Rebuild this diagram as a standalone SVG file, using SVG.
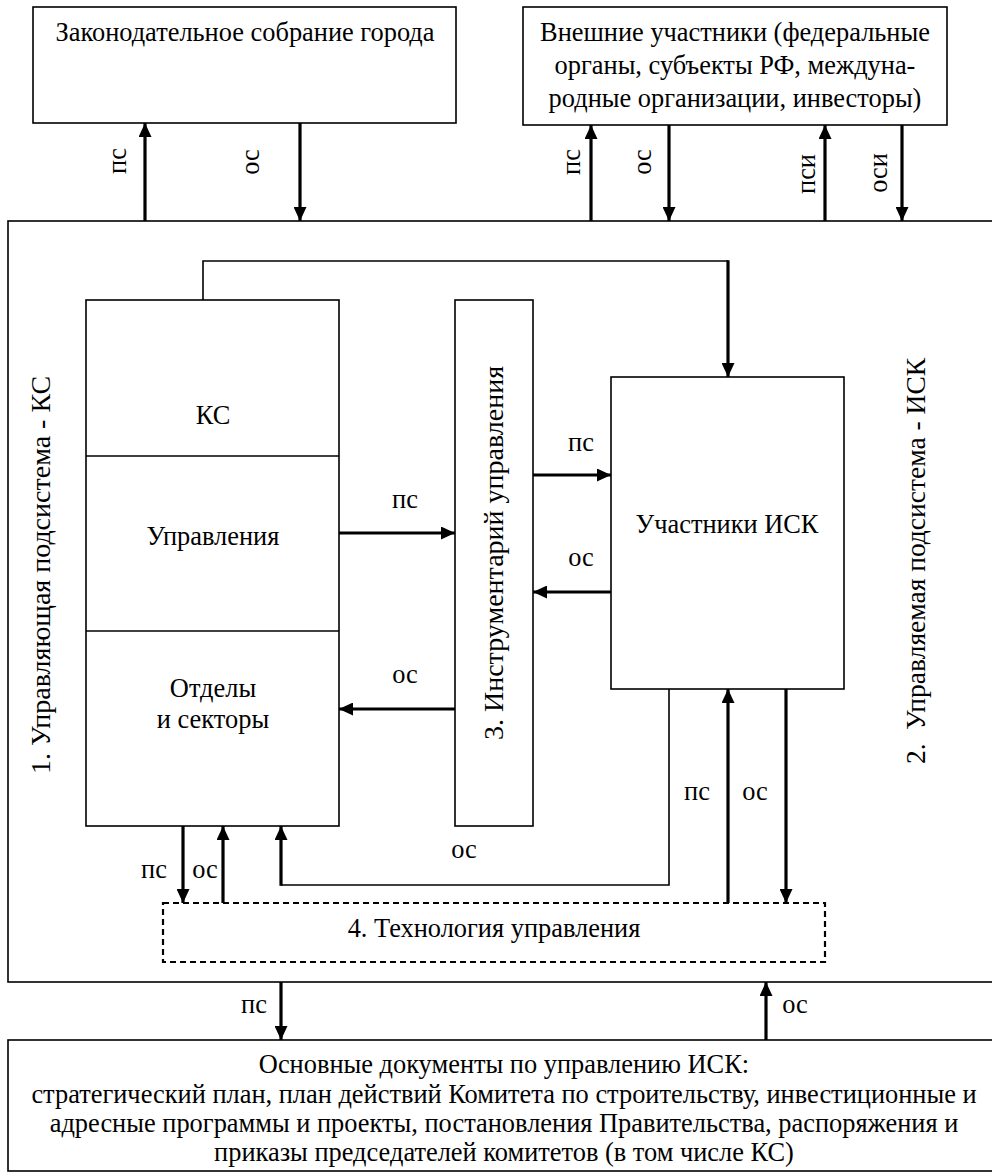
<svg xmlns="http://www.w3.org/2000/svg" width="992" height="1173" viewBox="0 0 992 1173" font-family="Liberation Serif">
<style>
  .box { fill: #fff; stroke: #000; stroke-width: 1.6; }
  .dash { fill: none; stroke: #000; stroke-width: 2.2; stroke-dasharray: 6 4; }
  .thin { fill: none; stroke: #000; stroke-width: 1.6; }
  .arr { fill: none; stroke: #000; stroke-width: 3.2; marker-end: url(#ah); }
  text { font-family: "Liberation Serif", "Times New Roman", serif; font-size: 26.4px; fill: #000; }
  .c { text-anchor: middle; }
  .big { font-size: 28px; }
</style>
<defs>
  <marker id="ah" viewBox="0 0 14 13" refX="14" refY="6.5" markerWidth="14" markerHeight="13" markerUnits="userSpaceOnUse" orient="auto">
    <path d="M0,0 L14,6.5 L0,13 z" fill="#000"/>
  </marker>
</defs>
<rect width="992" height="1173" fill="#fff"/>

<g id="main-system">
  <rect class="box" x="8" y="221" width="1000" height="761"/>
  <text transform="translate(50,575) rotate(-90)" class="c big">1. Управляющая подсистема - КС</text>
  <text transform="translate(925,561) rotate(-90)" class="c" style="font-size:27.5px" xml:space="preserve">2.  Управляемая подсистема - ИСК</text>
</g>

<g id="legislative">
  <rect class="box" x="33" y="7" width="423" height="116"/>
  <text x="245" y="41" class="c">Законодательное собрание города</text>
</g>

<g id="external">
  <rect class="box" x="523" y="7" width="424" height="118"/>
  <text x="735" y="41" class="c">Внешние участники (федеральные</text>
  <text x="735" y="74" class="c">органы, субъекты РФ, междуна-</text>
  <text x="735" y="107" class="c">родные организации, инвесторы)</text>
</g>

<g id="ks-column">
  <rect class="box" x="86" y="300" width="253" height="526"/>
  <line class="thin" x1="86" y1="456" x2="339" y2="456"/>
  <line class="thin" x1="86" y1="631" x2="339" y2="631"/>
  <text x="213" y="424" class="c">КС</text>
  <text x="213" y="545" class="c">Управления</text>
  <text x="213" y="697" class="c">Отделы</text>
  <text x="213" y="728" class="c">и секторы</text>
</g>

<g id="instruments">
  <rect class="box" x="455" y="300" width="78" height="526"/>
  <text transform="translate(503,553) rotate(-90)" class="c big">3. Инструментарий управления</text>
</g>

<g id="participants">
  <rect class="box" x="611" y="377" width="233" height="312"/>
  <text x="727" y="533" class="c">Участники ИСК</text>
</g>

<g id="technology">
  <rect class="dash" x="163" y="903" width="662" height="59"/>
  <text x="494" y="937" class="c">4. Технология управления</text>
</g>

<g id="documents">
  <rect class="box" x="8" y="1040" width="1000" height="131"/>
  <text x="504" y="1073" class="c">Основные документы по управлению ИСК:</text>
  <text x="504" y="1103" class="c">стратегический план, план действий Комитета по строительству, инвестиционные и</text>
  <text x="504" y="1132" class="c">адресные программы и проекты, постановления Правительства, распоряжения и</text>
  <text x="504" y="1161" class="c">приказы председателей комитетов (в том числе КС)</text>
</g>

<g id="connectors">
  <line class="arr" x1="145" y1="221" x2="145" y2="123"/>
  <line class="arr" x1="300" y1="123" x2="300" y2="221"/>
  <line class="arr" x1="591" y1="221" x2="591" y2="125"/>
  <line class="arr" x1="669" y1="125" x2="669" y2="221"/>
  <line class="arr" x1="825" y1="221" x2="825" y2="125"/>
  <line class="arr" x1="902" y1="125" x2="902" y2="221"/>

  <path class="thin" d="M203,300 V261 H728"/>
  <line class="arr" x1="728" y1="260.2" x2="728" y2="377"/>

  <line class="arr" x1="339" y1="533" x2="455" y2="533"/>
  <line class="arr" x1="533" y1="475" x2="611" y2="475"/>
  <line class="arr" x1="611" y1="592" x2="533" y2="592"/>
  <line class="arr" x1="455" y1="709" x2="339" y2="709"/>

  <line class="arr" x1="183" y1="826" x2="183" y2="903"/>
  <line class="arr" x1="223" y1="903" x2="223" y2="826"/>
  <path class="thin" d="M669,689 V885 H281"/>
  <line class="arr" x1="281" y1="885.8" x2="281" y2="826"/>

  <line class="arr" x1="728" y1="903" x2="728" y2="689"/>
  <line class="arr" x1="786" y1="689" x2="786" y2="903"/>

  <line class="arr" x1="281" y1="982" x2="281" y2="1040"/>
  <line class="arr" x1="766" y1="1040" x2="766" y2="982"/>

  <text transform="translate(126,161) rotate(-90)" class="c">пс</text>
  <text transform="translate(259,162) rotate(-90)" class="c">ос</text>
  <text transform="translate(580,162) rotate(-90)" class="c">пс</text>
  <text transform="translate(651,162) rotate(-90)" class="c">ос</text>
  <text transform="translate(815,174) rotate(-90)" class="c">пси</text>
  <text transform="translate(887,173) rotate(-90)" class="c">оси</text>

  <text x="405" y="508" class="c">пс</text>
  <text x="581" y="451" class="c">пс</text>
  <text x="581" y="566" class="c">ос</text>
  <text x="405" y="683" class="c">ос</text>
  <text x="464" y="858" class="c">ос</text>
  <text x="154" y="878" class="c">пс</text>
  <text x="205" y="878" class="c">ос</text>
  <text x="697" y="800" class="c">пс</text>
  <text x="755" y="800" class="c">ос</text>
  <text x="254" y="1013" class="c">пс</text>
  <text x="795" y="1013" class="c">ос</text>
</g>
</svg>
